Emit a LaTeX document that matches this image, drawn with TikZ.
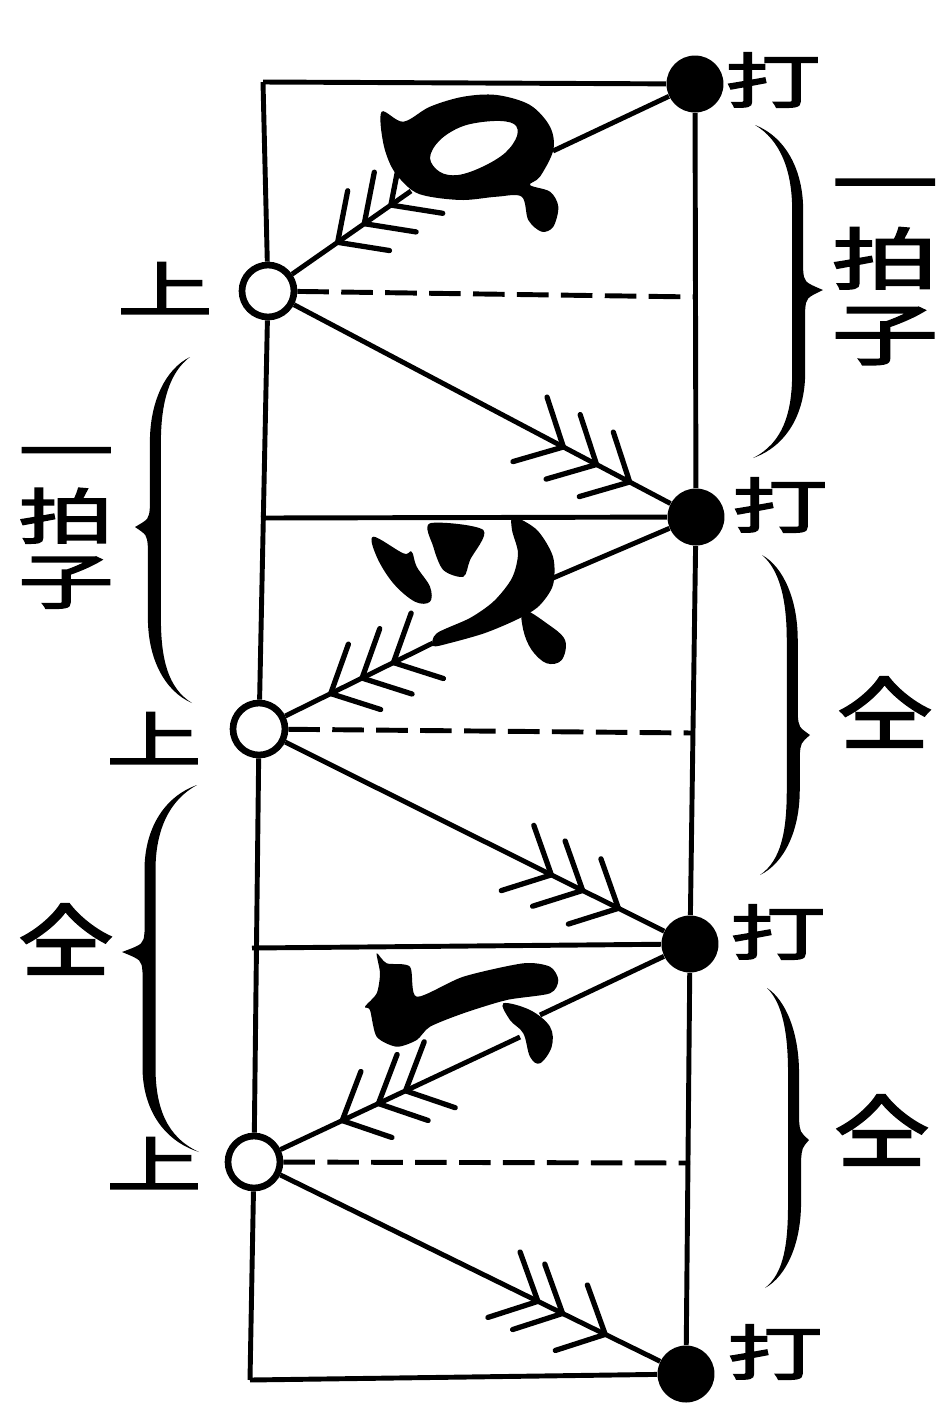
\documentclass[tikz,border=0pt]{standalone}
\usepackage{fontspec}
\newfontfamily\cjkA[FakeStretch=1.6,FakeBold=3]{Noto Sans CJK JP}
\newfontfamily\cjkB[FakeStretch=1.2,FakeBold=3]{Noto Sans CJK JP}
\usetikzlibrary{calc}
% #1,#2 tip-side origin (ends x, tip y), #3 upper length, #4 lower length, #5 depth, #6 side (+1 right, -1 left)
\newcommand\brc[6]{%
\begin{scope}[shift={(#1,#2)},xscale=#6]
\fill (0,-#3) .. controls (0.45*#5,-#3+12) and (0.62*#5+6,-#3+45) .. (0.62*#5+6,-#3+85) -- (0.62*#5+6,-20) .. controls (0.62*#5+7,-8) .. (#5,0) .. controls (0.62*#5+9,8) .. (0.62*#5+8,20) -- (0.62*#5+8,#4-85) .. controls (0.62*#5+8,#4-45) and (0.47*#5,#4-12) .. (-2,#4) .. controls (0.41*#5,#4-15) and (0.62*#5-5,#4-45) .. (0.62*#5-5,#4-85) -- (0.62*#5-5,0) -- (0.62*#5-5,-#3+85) .. controls (0.62*#5-5,-#3+45) and (0.37*#5,-#3+15) .. (0,-#3) -- cycle;
\end{scope}}
\newcommand\chev[3]{%
\foreach \dd in {#3}{%
  \path ($(#2)!\dd!(#1)$) coordinate (chvP);
  \draw[barb] ($(chvP)!1.05cm!44:(#1)$) -- (chvP) -- ($(chvP)!1.05cm!-44:(#1)$);
}}
\begin{document}
\begin{tikzpicture}[x=0.02cm,y=-0.02cm,
  ln/.style={line width=2.8pt},
  barb/.style={line width=3pt,line cap=round,line join=round},
  dot/.style={circle,fill=black,minimum size=1.14cm,inner sep=0pt},
  ring/.style={circle,draw,fill=white,line width=3.8pt,minimum size=1.04cm,inner sep=0pt},
  dsh/.style={line width=2.8pt,dash pattern=on 18pt off 7pt},
  lab/.style={font=\cjkA\fontsize{34}{34}\selectfont,inner sep=0pt},
  lab2/.style={font=\cjkB\fontsize{45}{45}\selectfont,inner sep=0pt},
  stk/.style={align=center,inner sep=0pt}]
\useasboundingbox (0,0) rectangle (944,1418);
\fill[white] (0,0) rectangle (944,1418);
% nodes
\node[dot] (d1) at (695,84) {};
\node[dot] (d2) at (696,517) {};
\node[dot] (d3) at (690,944) {};
\node[dot] (d4) at (686,1374) {};
\node[ring] (c1) at (268,291) {};
\node[ring] (c2) at (259,729) {};
\node[ring] (c3) at (254,1162) {};
\coordinate (tl) at (263,82);
\coordinate (bl) at (250,1380);
\coordinate (m1) at (261,518);
\coordinate (m2) at (252,948);
\coordinate (r1) at (697,297);
\coordinate (r2) at (694,733);
\coordinate (r3) at (690,1163);
% frame
\draw[ln] (tl) -- (c1) -- (c2) -- (c3) -- (bl);
\draw[ln] (d1) -- (d2) -- (d3) -- (d4);
\draw[ln] (tl) -- (d1);
\draw[ln] (m1) -- (d2);
\draw[ln] (m2) -- (d3);
\draw[ln] (bl) -- (d4);
\draw[dsh] (c1) -- (r1);
\draw[dsh] (c2) -- (r2);
\draw[dsh] (c3) -- (r3);
% glyph 1
\coordinate (g1a) at (553,151);
\coordinate (g1b) at (411,191);
\fill[even odd rule] plot[smooth cycle,tension=0.55] coordinates {(381.7,111.7) (403.3,121.7) (430,106.7) (463.3,96.7) (496.7,95) (530,105) (550,126.7) (553.3,150) (540,176.7) (530,185) (550,191.7) (558.3,206.7) (553.3,226.7) (541.7,231.7) (528.3,220) (521.7,196.7) (496.7,196.7) (463.3,200) (430,196.7) (411.7,190) (393.3,170) (383.3,143.3)}
 plot[smooth cycle,tension=0.6] coordinates {(430,158) (440,140) (463.3,126) (494,121) (514,124) (517,136) (505,153) (482,167) (458,175) (440,172)};
\draw[ln] (d1) -- (g1a);
\draw[ln] (g1b) -- (c1);
\chev{g1b}{c1.center}{1.7cm,2.35cm,3.0cm}
% glyph 2
\coordinate (g2a) at (553,578);
\coordinate (g2b) at (433,643);
\fill plot[smooth cycle,tension=0.6] coordinates {(373.3,536.7) (403.3,553.3) (411.7,551.7) (416.7,566.7) (430,586.7) (430,601.7) (415,601.7) (393.3,583.3) (376.7,556.7)};
\fill plot[smooth cycle,tension=0.5] coordinates {(430,523.3) (483.3,530) (470,560) (463.3,576.7) (443.3,570) (433.3,546.7)};
\fill plot[smooth cycle,tension=0.5] coordinates {(513.3,516.7) (537,530) (553,556.7) (553,585) (539,606) (518,619) (485,633) (450,643) (433.3,646) (436.7,633.3) (470,618) (494,601) (512,578) (518,553.3) (512,530)};
\fill plot[smooth cycle,tension=0.6] coordinates {(523.3,610) (546.7,623.3) (565,640) (561.7,660) (546.7,663.3) (531.7,650) (523.3,630)};
\draw[ln] (d2) -- (g2a);
\draw[ln] (g2b) -- (c2);
\chev{g2b}{c2.center}{1.6cm,2.3cm,3.0cm}
% glyph 3
\coordinate (g3a) at (540,1015);
\coordinate (g3b) at (520,1037);
\fill plot[smooth cycle,tension=0.45] coordinates {(376.7,953.3) (386.7,963.3) (410,966.7) (416.7,996.7) (463.3,976.7) (523.3,963.3) (550,966.7) (558.3,980) (550,993.3) (506.7,1000) (463.3,1013.3) (430,1026.7) (416.7,1040) (396.7,1046.7) (376.7,1036.7) (370,1010) (365,1006.7) (376.7,993.3) (380,973.3)};
\fill plot[smooth cycle,tension=0.6] coordinates {(503.3,1003.3) (530,1010) (550,1026.7) (551.7,1046.7) (540,1063.3) (530,1056.7) (523.3,1033.3) (510,1020)};
\draw[ln] (d3) -- (g3a);
\draw[ln] (g3b) -- (c3);
\chev{g3b}{c3.center}{1.95cm,2.75cm,3.35cm}
% lower arrows
\draw[ln] (c1) -- (d2);
\chev{c1.center}{d2.center}{1.5cm,2.25cm,3.0cm}
\draw[ln] (c2) -- (d3);
\chev{c2.center}{d3.center}{1.6cm,2.4cm,3.1cm}
\draw[ln] (c3) -- (d4);
\chev{c3.center}{d4.center}{1.8cm,2.75cm,3.3cm}
% braces
\brc{755}{290}{165}{168}{68}{1}
\brc{762}{735}{180}{140}{48}{1}
\brc{767}{1140}{152}{148}{42}{1}
\brc{190}{527}{170}{176}{55}{-1}
\brc{197}{952}{167}{200}{75}{-1}
% labels
\node[lab] (t1) at (773,80) {打};
\node[lab] (t2) at (780,505) {打};
\node[lab] (t3) at (778,932) {打};
\node[lab] (t4) at (775,1352) {打};
\node[lab] (s1) at (165,288) {上};
\node[lab] (s2) at (154,738) {上};
\node[lab] (s3) at (154,1163) {上};
\node[stk,font=\cjkA\fontsize{38}{43}\selectfont] (k1) at (885,272) {一\\拍\\子};
\node[stk,font=\cjkA\fontsize{34}{37}\selectfont] (k2) at (66,528) {一\\拍\\子};
\node[lab2] (q1) at (885,712) {仝};
\node[lab2] (q2) at (882,1130) {仝};
\node[lab2] (q3) at (66,939) {仝};
\end{tikzpicture}
\end{document}
